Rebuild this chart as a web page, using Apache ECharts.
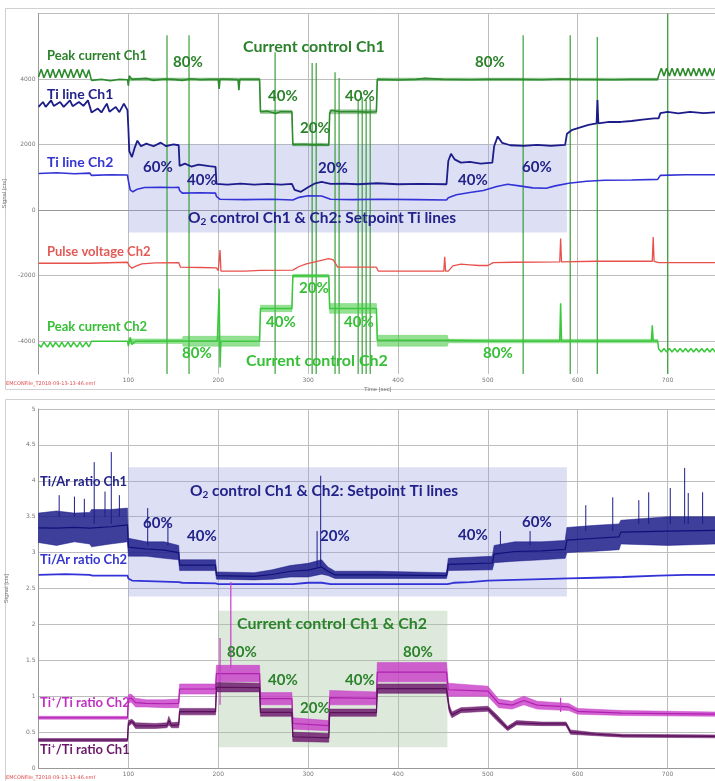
<!DOCTYPE html>
<html><head><meta charset="utf-8">
<script src="https://cdn.jsdelivr.net/npm/echarts@6/dist/echarts.min.js"></script>
<style>html,body{margin:0;padding:0;background:#fff;}#c{width:715px;height:781px;}</style>
</head><body><div id="c"></div><script>
// ---------------- DATA (time in s) ----------------
const topYTicks = [-4000,-2000,0,2000,4000];
const bottomYTicks = [0,0.5,1,1.5,2,2.5,3,3.5,4,4.5,5];

// Peak current Ch1 [t, signal] and noise band [t, low, high]
const peakCurrentCh1 = [[0,4060],[3,4300],[6,4040],[10,4300],[13,4040],[16,4300],[19,4040],[23,4300],[26,4040],[29,4300],[33,4040],[36,4300],[39,4040],[43,4300],[46,4040],[49,4300],[53,4040],[56,4280],[59,3960],
[70,3990],[80,3950],[90,3990],[99,3980],[100,3800],[101,4100],[104,3990],[120,4020],[128,3960],[140,4000],[150,3990],[160,3960],[170,4010],[180,3980],[190,3990],[200,3990],[201,3700],[202,4000],[215,3990],[222,3980],[223,3660],[224,3990],[235,3990],[246,3990],
[247,3000],[255,3020],[264,2950],[270,3010],[282,3000],
[283,2000],[295,2010],[305,1990],[315,2000],[323,1980],
[324,2950],[326,3050],[335,3000],[350,3010],[365,2990],[376,3000],
[377,3990],[400,3970],[420,3990],[430,4020],[450,3990],[480,3980],[500,3990],[530,3990],[560,3980],[580,4000],[600,3990],[640,3980],[660,3990],[689,3990],
[690,4100],[693,4330],[696,4090],[699,4330],[702,4090],[705,4330],[708,4090],[711,4330],[714,4090],[717,4330],[720,4090],[723,4330],[726,4090],[729,4330],[732,4090],[735,4330],[738,4090],[741,4330],[744,4090],[747,4330],[750,4090],[753,4330],[755,4200]];
const peakCurrentCh1Band = [[100,3950,4030],[246,3950,4030],[247,2950,3050],[282,2950,3050],[283,1960,2040],[323,1960,2040],[324,2940,3060],[376,2940,3060],[377,3950,4030],[689,3955,4025]];

// Ti line Ch1
const tiLineCh1 = [[0,3150],[5,3300],[8,3150],[14,3350],[17,3180],[24,3300],[28,3150],[35,3350],[38,3170],[45,3300],[50,3180],[55,3350],[57,3170],
[59,2980],[66,3100],[70,2980],[76,3250],[79,3000],[86,3150],[90,2990],[95,3250],[99,3050],
[100,2500],[101,1800],[104,1620],[107,1900],[110,2120],[114,1950],[120,2030],[128,1950],[136,2060],[142,1950],[150,2010],[156,1980],
[157,1350],[163,1420],[170,1330],[178,1390],[190,1340],[197,1320],
[198,800],[210,780],[225,810],[240,780],[255,800],[270,780],[282,800],
[285,620],[292,560],[300,700],[308,820],[315,860],[325,800],[340,810],[355,790],[377,820],[400,790],[425,800],[454,790],
[456,1500],[459,1720],[463,1550],[470,1450],[480,1470],[492,1420],[505,1450],
[507,1950],[511,2250],[516,2050],[525,1980],[540,1960],[555,1990],[570,1960],[586,1990],
[588,2330],[594,2450],[602,2520],[612,2600],[621,2650],[622,3360],[623,2650],[635,2690],[648,2690],[660,2720],[672,2760],[685,2800],[690,2800],
[692,2960],[700,3000],[712,2950],[725,3000],[740,2960],[755,2990]];

// Ti line Ch2
const tiLineCh2 = [[0,1120],[20,1140],[40,1110],[57,1130],[59,1060],[80,1080],[99,1070],
[100,900],[102,620],[105,560],[110,640],[118,690],[135,700],[150,690],[156,700],
[157,600],[160,520],[180,530],[197,520],
[198,420],[202,330],[230,320],[260,330],[283,310],[290,390],[300,440],[315,430],[325,330],[350,320],[380,330],[420,320],[454,310],
[456,380],[465,470],[480,540],[495,600],[510,720],[522,790],[535,740],[550,680],[565,670],[575,740],[590,820],[610,880],[630,910],[660,920],[689,940],
[692,1060],[720,1080],[755,1080]];

// Pulse voltage Ch2
const pulseVoltageCh2 = [[0,-1620],[57,-1620],[59,-1580],[99,-1590],[101,-1700],[104,-1770],[109,-1700],[115,-1640],[130,-1610],[156,-1600],
[158,-1740],[180,-1750],[198,-1760],[200,-1850],[202,-1220],[203,-1860],[230,-1860],[247,-1840],[283,-1830],
[290,-1720],[298,-1640],[310,-1560],[323,-1480],[328,-1520],[333,-1740],[350,-1740],[376,-1740],
[378,-1860],[451,-1860],[452,-1420],[453,-1860],[456,-1860],[461,-1700],[470,-1650],[480,-1670],[490,-1690],[500,-1690],[506,-1600],[530,-1590],[580,-1580],[581,-870],[582,-1580],[620,-1560],[650,-1560],[683,-1560],[684,-820],[685,-1560],[690,-1600],[755,-1600]];

// Peak current Ch2 (centre) and its noise band [t, low, high]
const peakCurrentCh2 = [[0,-4100],[3,-4180],[6,-4030],[10,-4180],[13,-4030],[16,-4180],[19,-4030],[23,-4180],[26,-4030],[29,-4180],[33,-4030],[36,-4180],[39,-4030],[43,-4180],[46,-4030],[49,-4180],[53,-4030],[56,-4170],[59,-4000],
[99,-4000],[100,-4150],[102,-3880],[104,-4100],[108,-4000],[150,-3990],[199,-3990],[201,-2400],[202,-4800],[203,-4000],[246,-3990],
[247,-3000],[282,-3000],[283,-2000],[323,-2010],[324,-3000],[376,-3000],[377,-3970],[455,-3970],[500,-3990],[580,-3990],[581,-2840],[582,-3990],[682,-3990],[683,-3510],[684,-3990],[689,-3990],
[690,-4230],[693,-4330],[696,-4220],[699,-4330],[702,-4220],[705,-4330],[708,-4220],[711,-4330],[714,-4220],[717,-4330],[720,-4220],[723,-4330],[726,-4220],[729,-4330],[732,-4220],[735,-4330],[738,-4220],[741,-4330],[744,-4220],[747,-4330],[750,-4220],[753,-4330],[755,-4270]];
const peakCurrentCh2Band = [[100,-4070,-3930],[160,-4070,-3930],[161,-4150,-3850],[199,-4150,-3850],[203,-4150,-3840],[246,-4150,-3850],[247,-3100,-2900],[282,-3100,-2900],[283,-2050,-1960],[323,-2050,-1960],[324,-3150,-2850],[376,-3150,-2850],[377,-4150,-3820],[455,-4150,-3820],[456,-4050,-3940],[689,-4050,-3940]];

// Full-height green traces [t, bottom, top]
const greenTraces = [[143,-5000,5340],[167.5,-5000,5340],[263.3,-5000,4820],[304.5,-5000,4490],[309,-5000,4490],[330,-5000,4210],[334.5,-5000,4030],[355.7,-5000,3360],[360.2,-5000,3450],[364.6,-5000,3360],[369.1,-5000,3360],[539.3,-5000,5340],[591.7,-5000,5340],[621.8,-5000,5280],[700.2,-5000,6000]];

// Shaded regions [t0, v0, t1, v1]
const o2ShadeTop = [100,2000,588,-680];
const o2ShadeBottom = [100,4.19,588,2.39];
const currentShadeBottom = [200,2.19,455,0.29];

// Ti/Ar ratio Ch1 band [t, low, high]
const tiArCh1Band = [[0,3.14,3.55],[20,3.1,3.58],[40,3.15,3.55],[57,3.12,3.56],[59,3.08,3.6],[80,3.12,3.6],[99,3.15,3.62],
[100,2.95,3.2],[120,2.95,3.15],[140,2.92,3.15],[156,2.9,3.1],
[157,2.75,2.9],[197,2.75,2.9],
[198,2.63,2.73],[240,2.62,2.72],[260,2.63,2.76],[280,2.66,2.82],[300,2.66,2.85],[315,2.7,2.9],[322,2.68,2.8],[330,2.64,2.74],[377,2.64,2.74],[454,2.64,2.72],
[456,2.75,2.92],[505,2.76,2.95],
[507,2.86,3.1],[530,2.88,3.15],[560,2.9,3.15],[586,2.92,3.17],
[588,3.0,3.35],[620,3.02,3.38],[646,3.04,3.4],[648,3.12,3.45],[700,3.1,3.5],[755,3.12,3.5]];
const tiArCh1Spikes = [[23,3.5,3.8],[40,3.5,3.78],[51,3.5,3.75],[62,3.4,4.26],[74,3.5,3.85],[81,3.4,4.4],[90,3.5,3.8],[121.5,3.1,3.62],[144,3.1,3.45],[310,2.8,3.3],[314,2.8,4.07],[514,3.1,3.3],[547,3.1,3.3],[609,3.3,3.66],[639,3.3,3.77],[668,3.4,3.73],[679,3.4,3.84],[703,3.4,3.9],[719,3.4,4.18],[723,3.4,3.83],[739,3.4,3.84]];

// Ti/Ar ratio Ch2
const tiArCh2 = [[0,2.69],[30,2.70],[57,2.69],[60,2.68],[99,2.68],[100,2.64],[104,2.61],[130,2.60],[156,2.59],[160,2.58],[197,2.57],[200,2.56],[283,2.56],[300,2.58],[315,2.58],[325,2.56],[455,2.56],[462,2.58],[480,2.59],[500,2.61],[530,2.62],[560,2.63],[590,2.64],[620,2.65],[650,2.66],[690,2.68],[720,2.69],[755,2.69]];

// Ti+/Ti ratio Ch2 band
const tiPlusCh2Band = [[0,0.68,0.72],[99,0.68,0.72],
[100,0.9,1.02],[103,0.92,1.03],[108,0.85,0.97],[120,0.85,0.95],[140,0.84,0.95],[156,0.84,0.96],
[157,1.03,1.17],[197,1.03,1.17],
[198,1.2,1.43],[246,1.2,1.43],
[247,0.88,1.05],[282,0.88,1.05],
[283,0.54,0.7],[323,0.52,0.66],
[324,0.88,1.08],[376,0.88,1.06],
[377,1.2,1.47],[454,1.2,1.47],
[456,1.0,1.18],[500,1.0,1.14],[512,0.84,0.96],[527,0.82,0.93],[540,0.88,1.0],[555,0.82,0.93],[590,0.8,0.9],[600,0.75,0.83],[650,0.73,0.8],[755,0.72,0.78]];
const tiPlusCh2Spikes = [[202,0.88,1.81],[214,1.4,2.59],[581,0.78,0.98]];

// Ti+/Ti ratio Ch1 band
const tiPlusCh1Band = [[0,0.37,0.41],[99,0.37,0.41],
[100,0.58,0.66],[104,0.62,0.68],[108,0.55,0.63],[130,0.55,0.62],[143,0.56,0.63],[145,0.6,0.72],[148,0.56,0.63],[156,0.56,0.64],
[157,0.74,0.83],[197,0.74,0.83],
[198,1.06,1.19],[246,1.06,1.18],
[247,0.72,0.83],[282,0.72,0.83],
[283,0.37,0.5],[323,0.36,0.48],
[324,0.72,0.82],[376,0.72,0.82],
[377,1.04,1.17],[454,1.04,1.17],
[457,0.78,0.88],[460,0.7,0.78],[470,0.77,0.84],[500,0.79,0.86],[510,0.66,0.74],[522,0.52,0.58],[532,0.6,0.66],[560,0.59,0.64],[587,0.59,0.64],[592,0.47,0.53],[620,0.45,0.49],[650,0.43,0.47],[755,0.42,0.46]];

// ---------------- RENDER ----------------
const FF = 'Lato, "Open Sans", "DejaVu Sans", sans-serif';
const C = {
  g1:'#2e8b2e', g2:'#3cc83c', navy:'#1c1c8a', blue:'#3232d6', red:'#e8504c',
  mag:'#c83cc8', pur:'#6e1e6e', vert:'rgba(40,150,40,0.85)'
};
function line(data, color, width, gi, z, extra) {
  return Object.assign({type:'line', xAxisIndex:gi, yAxisIndex:gi, data:data, symbol:'none', showSymbol:false,
    connectNulls:false, lineStyle:{color:color, width:width}, itemStyle:{color:color}, silent:true, animation:false, z:z||3}, extra||{});
}
// noise band drawn as one polygon through the axis scales
function band(arr, color, opacity, gi, z) {
  return {type:'custom', xAxisIndex:gi, yAxisIndex:gi, data:arr, encode:{x:0, y:[1,2]}, silent:true, animation:false, z:z,
    clip:true,
    renderItem: function (params, api) {
      if (params.dataIndex !== 0) return null;
      const pts = [];
      for (let i = 0; i < arr.length; i++) pts.push(api.coord([arr[i][0], arr[i][2]]));
      for (let i = arr.length - 1; i >= 0; i--) pts.push(api.coord([arr[i][0], arr[i][1]]));
      return {type:'polygon', shape:{points:pts}, style:{fill:color, opacity:opacity, stroke:color, lineWidth:0.6}};
    }};
}
function centre(arr) { return arr.map(d => [d[0], (d[1]+d[2])/2]); }
function spikes(arr, color, width, gi, z, extra) {
  const d = [];
  arr.forEach(s => { d.push([s[0], s[1]], [s[0], s[2]], [s[0], '-']); });
  return line(d, color, width, gi, z, extra);
}
function area(r, color) {
  return {silent:true, itemStyle:{color:color}, data:[[{xAxis:r[0], yAxis:r[1]},{xAxis:r[2], yAxis:r[3]}]]};
}

const axisLbl = {fontSize:6, color:'#777', fontFamily:'"DejaVu Sans", sans-serif', margin:3};
function xAx(gi) {
  return {type:'value', gridIndex:gi, min:0, max:755, interval:100,
    name:'Time [sec]', nameLocation:'middle', nameGap:12, nameTextStyle:{fontSize:6, color:'#777'},
    axisLine:{show:true, lineStyle:{color:'#999'}}, axisTick:{show:false},
    axisLabel:Object.assign({showMinLabel:false, showMaxLabel:false}, axisLbl),
    splitLine:{show:true, lineStyle:{color:'#bdbdbd', width:1}}};
}
const option = {
  backgroundColor:'#fff',
  animation:false,
  grid:[
    {left:38.5, right:-2, top:13.5, height:360.5, containLabel:false, outerBoundsMode:'none'},
    {left:38.5, right:-2, top:409, height:359, containLabel:false, outerBoundsMode:'none'}
  ],
  xAxis:[xAx(0), xAx(1)],
  yAxis:[
    {type:'value', gridIndex:0, min:-5000, max:6000, interval:1000,
     name:'Signal [cts]', nameLocation:'middle', nameGap:29, nameTextStyle:{fontSize:6, color:'#777'},
     axisLine:{show:true, lineStyle:{color:'#999'}}, axisTick:{show:false},
     axisLabel:Object.assign({showMaxLabel:false, formatter:v => topYTicks.indexOf(v) >= 0 ? String(v) : ''}, axisLbl),
     splitLine:{show:true, lineStyle:{color:['rgba(0,0,0,0)','#bdbdbd'], width:1}}},
    {type:'value', gridIndex:1, min:0, max:5, interval:0.5,
     name:'Signal [cts]', nameLocation:'middle', nameGap:29, nameTextStyle:{fontSize:6, color:'#777'},
     axisLine:{show:true, lineStyle:{color:'#999'}}, axisTick:{show:false},
     axisLabel:Object.assign({formatter:v => bottomYTicks.indexOf(v) >= 0 ? String(v) : ''}, axisLbl),
     splitLine:{show:true, lineStyle:{color:'#bdbdbd', width:1}}}
  ],
  series:[
    spikes(greenTraces, C.vert, 1.3, 0, 2, {markArea: area(o2ShadeTop, 'rgba(150,158,225,0.32)')}),
    band(peakCurrentCh1Band, C.g1, 0.45, 0, 4),
    line(peakCurrentCh1, C.g1, 1.6, 0, 4),
    line(tiLineCh1, C.navy, 1.8, 0, 4),
    line(tiLineCh2, C.blue, 1.6, 0, 4),
    line(pulseVoltageCh2, C.red, 1.3, 0, 4),
    band(peakCurrentCh2Band, C.g2, 0.55, 0, 4),
    line(peakCurrentCh2, C.g2, 1.5, 0, 4),
    line(tiArCh2, C.blue, 1.8, 1, 3, {markArea:{silent:true, data:[
        [{xAxis:o2ShadeBottom[0], yAxis:o2ShadeBottom[1], itemStyle:{color:'rgba(150,158,225,0.32)'}},{xAxis:o2ShadeBottom[2], yAxis:o2ShadeBottom[3]}],
        [{xAxis:currentShadeBottom[0], yAxis:currentShadeBottom[1], itemStyle:{color:'rgba(160,195,155,0.36)'}},{xAxis:currentShadeBottom[2], yAxis:currentShadeBottom[3]}]
      ]}}),
    band(tiArCh1Band, C.navy, 0.85, 1, 4),
    line(centre(tiArCh1Band), '#10107a', 1.2, 1, 4),
    spikes(tiArCh1Spikes, C.navy, 1, 1, 4),
    band(tiPlusCh2Band, C.mag, 0.8, 1, 4),
    line(centre(tiPlusCh2Band), '#b020b0', 1.2, 1, 4),
    spikes(tiPlusCh2Spikes, C.mag, 1.2, 1, 4),
    band(tiPlusCh1Band, C.pur, 0.85, 1, 5),
    line(centre(tiPlusCh1Band), '#5a105a', 1.2, 1, 5)
  ]
};

// ---------------- ANNOTATIONS (pixel layout) ----------------
function T(x, y, text, color, size, rich) {
  const st = {text:text, fill:color, fontSize:size, fontFamily:FF, fontWeight:'bold', textAlign:'left', textVerticalAlign:'middle'};
  if (rich) st.rich = rich;
  return {type:'text', x:x, y:y, z:100, silent:true, style:st};
}
function subRich(color, size) {
  return {a:{fill:color, fontSize:size, fontFamily:FF, fontWeight:'bold', lineHeight:size+2},
          s:{fill:color, fontSize:Math.round(size*0.62), fontFamily:FF, fontWeight:'bold', lineHeight:8, verticalAlign:'bottom'}};
}
function supRich(color, size) {
  return {a:{fill:color, fontSize:size, fontFamily:FF, fontWeight:'bold', lineHeight:size+2},
          p:{fill:color, fontSize:Math.round(size*0.65), fontFamily:FF, fontWeight:'bold', lineHeight:8, verticalAlign:'top'}};
}
const TXN = '#22228a', TXB = '#3434d0', TXG1 = '#2b822b', TXG2 = '#36c036', TXR = '#e25a55', TXM = '#c030c0', TXP = '#6a1a6a';
const graphics = [
  {type:'rect', z:0, silent:true, shape:{x:5.5, y:8.5, width:720, height:381}, style:{fill:'none', stroke:'#d0d0d0', lineWidth:1}},
  {type:'rect', z:0, silent:true, shape:{x:5.5, y:399.5, width:720, height:400}, style:{fill:'none', stroke:'#d0d0d0', lineWidth:1}},
  {type:'text', x:6, y:384, z:100, silent:true, style:{text:'EMCONFile_T2018-09-13-13-46.emf', fill:'#e04a4a', fontSize:5, fontFamily:'"DejaVu Sans", sans-serif', textVerticalAlign:'middle'}},
  {type:'text', x:6, y:778, z:100, silent:true, style:{text:'EMCONFile_T2018-09-13-13-46.emf', fill:'#e04a4a', fontSize:5, fontFamily:'"DejaVu Sans", sans-serif', textVerticalAlign:'middle'}},
  // top panel
  T(47, 56, 'Peak current Ch1', TXG1, 13),
  T(173, 62, '80%', TXG1, 15),
  T(243, 47, 'Current control Ch1', TXG1, 16),
  T(268, 96, '40%', TXG1, 15),
  T(300, 128, '20%', TXG1, 15),
  T(345, 96, '40%', TXG1, 15),
  T(475, 62, '80%', TXG1, 15),
  T(47, 94, 'Ti line Ch1', TXN, 14),
  T(47, 162, 'Ti line Ch2', TXB, 14),
  T(143, 167, '60%', TXN, 15),
  T(187, 180, '40%', TXN, 15),
  T(318, 168, '20%', TXN, 15),
  T(458, 180, '40%', TXN, 15),
  T(522, 167, '60%', TXN, 15),
  T(188, 218, '{a|O}{s|2}{a| control Ch1 & Ch2: Setpoint Ti lines}', TXN, 15.5, subRich(TXN, 15.5)),
  T(47, 252, 'Pulse voltage Ch2', TXR, 13),
  T(299, 288, '20%', TXG2, 15),
  T(266, 322, '40%', TXG2, 15),
  T(344, 322, '40%', TXG2, 15),
  T(47, 327, 'Peak current Ch2', TXG2, 13),
  T(182, 353, '80%', TXG2, 15),
  T(246, 361, 'Current control Ch2', TXG2, 16),
  T(483, 353, '80%', TXG2, 15),
  // bottom panel
  T(40, 482, 'Ti/Ar ratio Ch1', TXN, 13),
  T(190, 491, '{a|O}{s|2}{a| control Ch1 & Ch2: Setpoint Ti lines}', TXN, 15.5, subRich(TXN, 15.5)),
  T(143, 523, '60%', TXN, 15),
  T(187, 536, '40%', TXN, 15),
  T(320, 536, '20%', TXN, 15),
  T(458, 535, '40%', TXN, 15),
  T(522, 522, '60%', TXN, 15),
  T(40, 560, 'Ti/Ar ratio Ch2', TXB, 13),
  T(237, 624, 'Current control Ch1 & Ch2', TXG1, 16),
  T(227, 652, '80%', TXG1, 15),
  T(268, 680, '40%', TXG1, 15),
  T(300, 708, '20%', TXG1, 15),
  T(345, 680, '40%', TXG1, 15),
  T(403, 652, '80%', TXG1, 15),
  T(40, 703, '{a|Ti}{p|+}{a|/Ti ratio Ch2}', TXM, 13, supRich(TXM, 13)),
  T(40, 750, '{a|Ti}{p|+}{a|/Ti ratio Ch1}', TXP, 13, supRich(TXP, 13))
];
option.graphic = {elements: graphics};

const chart = echarts.init(document.getElementById('c'), null, {renderer:'canvas', width:715, height:781});
chart.setOption(option);
</script></body></html>
